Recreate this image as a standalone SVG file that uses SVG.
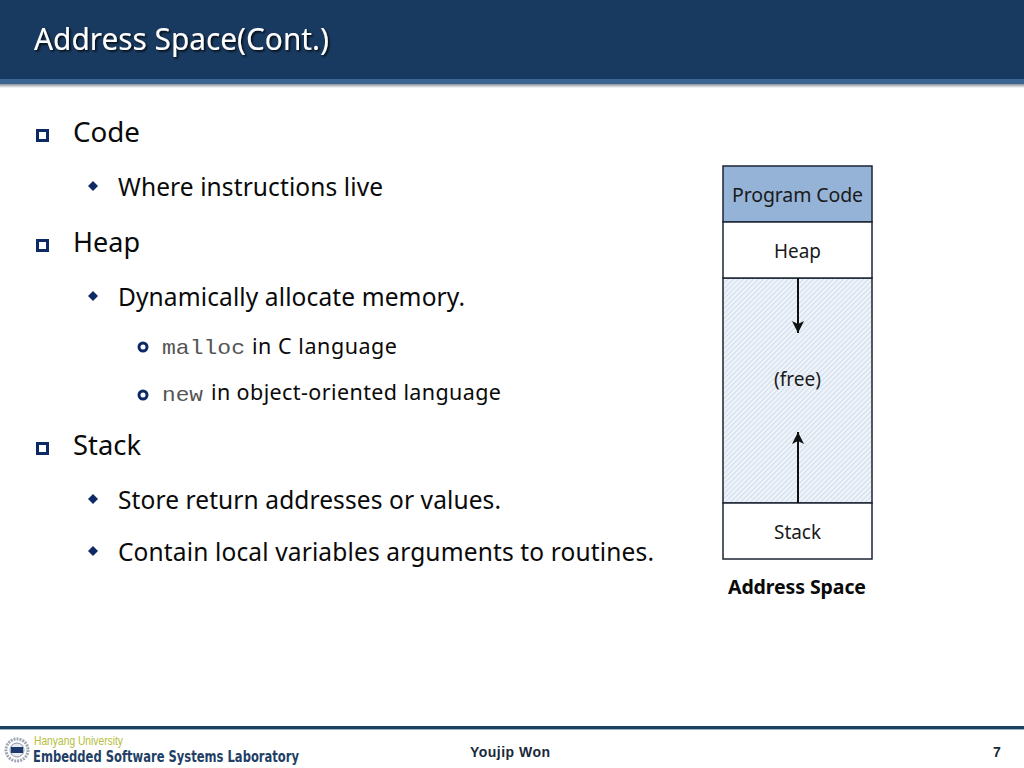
<svg xmlns="http://www.w3.org/2000/svg" width="1024" height="768" viewBox="0 0 1024 768">
<style>
text{font-family:"Noto Sans","Open Sans","DejaVu Sans",sans-serif;fill:#0a0a0a}
.l1{font-size:27px}.l2{font-size:24.500px}.l3{font-size:21.500px}.n{font-size:19.500px;fill:#1a1a1a}.m{font-family:"Liberation Mono",monospace;font-size:21px;fill:#555}
.b1{fill:#fff;stroke:#0e2a66;stroke-width:3}.b2{fill:#0e2a66}.b3{fill:#fff;stroke:#0e2a66;stroke-width:3}
.box{stroke:#1c2433;stroke-width:1.500}
.arr{stroke:#111;stroke-width:2;fill:none;marker-end:url(#ah)}
</style>
<defs>
<marker id="ah" markerUnits="userSpaceOnUse" markerWidth="14" markerHeight="14" refX="13" refY="7" orient="auto"><path d="M1 1L13 7L1 13L4 7Z" fill="#111"/></marker>
<pattern id="dots" width="5" height="5" patternUnits="userSpaceOnUse"><rect width="5" height="5" fill="#eef3f9"/><path d="M-1 3.500L3.500 -1M1.500 6L6 1.500" stroke="#c6d6e9" stroke-width="1"/></pattern>
<linearGradient id="sh" x1="0" x2="0" y1="0" y2="1"><stop offset="0" stop-color="#8b8f96"/><stop offset="1" stop-color="#fff"/></linearGradient>
<filter id="ts" x="-5%" y="-20%" width="110%" height="140%"><feDropShadow dx="1.500" dy="1.500" stdDeviation="0.800" flood-color="#000" flood-opacity="0.900"/></filter>
</defs>
<rect width="1024" height="768" fill="#fff"/>
<g id="header">
<rect width="1024" height="80" fill="#193a60"/>
<rect y="79" width="1024" height="5" fill="#3c6591"/>
<rect y="84" width="1024" height="4" fill="url(#sh)"/>
<text x="34" y="50" font-size="30" style="fill:#fff" filter="url(#ts)" textLength="295" lengthAdjust="spacingAndGlyphs">Address Space(Cont.)</text>
</g>
<g id="outline">
<rect class="b1" x="37.500" y="130.500" width="10" height="10"/>
<text class="l1" x="73" y="142" textLength="67" lengthAdjust="spacingAndGlyphs">Code</text>
<path class="b2" d="M93 181L98 186L93 191L88 186Z"/>
<text class="l2" x="118" y="196" textLength="265" lengthAdjust="spacing">Where instructions live</text>
<rect class="b1" x="37.500" y="240.500" width="10" height="10"/>
<text class="l1" x="73" y="252" textLength="67" lengthAdjust="spacingAndGlyphs">Heap</text>
<path class="b2" d="M93 291L98 296L93 301L88 296Z"/>
<text class="l2" x="118" y="306" textLength="347" lengthAdjust="spacing">Dynamically allocate memory.</text>
<circle class="b3" cx="143" cy="347" r="4"/>
<text class="m" x="162" y="354" textLength="83" lengthAdjust="spacingAndGlyphs">malloc</text>
<text class="l3" x="252" y="354" textLength="145" lengthAdjust="spacing">in C language</text>
<circle class="b3" cx="143" cy="395" r="4"/>
<text class="m" x="162" y="401" textLength="41" lengthAdjust="spacingAndGlyphs">new</text>
<text class="l3" x="211" y="400" textLength="290" lengthAdjust="spacing">in object-oriented language</text>
<rect class="b1" x="37.500" y="443.500" width="10" height="10"/>
<text class="l1" x="73" y="455" textLength="68" lengthAdjust="spacingAndGlyphs">Stack</text>
<path class="b2" d="M93 494L98 499L93 504L88 499Z"/>
<text class="l2" x="118" y="509" textLength="383" lengthAdjust="spacing">Store return addresses or values.</text>
<path class="b2" d="M93 546L98 551L93 556L88 551Z"/>
<text class="l2" x="118" y="561" textLength="536" lengthAdjust="spacing">Contain local variables arguments to routines.</text>
</g>
<g id="node-free"><rect class="box" x="723" y="278" width="149" height="225" fill="url(#dots)"/>
<text class="n" x="797.500" y="386" text-anchor="middle" textLength="47" lengthAdjust="spacingAndGlyphs">(free)</text></g>
<g id="node-code"><rect class="box" x="723" y="166" width="149" height="56" fill="#95b3d7"/>
<text class="n" x="797.500" y="202" text-anchor="middle" textLength="131" lengthAdjust="spacing">Program Code</text></g>
<g id="node-heap"><rect class="box" x="723" y="222" width="149" height="56" fill="#fff"/>
<text class="n" x="797.500" y="258" text-anchor="middle" textLength="47" lengthAdjust="spacingAndGlyphs">Heap</text></g>
<g id="node-stack"><rect class="box" x="723" y="503" width="149" height="56" fill="#fff"/>
<text class="n" x="797.500" y="539" text-anchor="middle" textLength="47" lengthAdjust="spacingAndGlyphs">Stack</text></g>
<g id="connectors">
<path class="arr" d="M798 278V333"/>
<path class="arr" d="M798 503V432"/>
</g>
<text x="797" y="594" text-anchor="middle" font-size="19.500" font-weight="700" textLength="138" lengthAdjust="spacing">Address Space</text>
<g id="footer">
<rect y="726" width="1024" height="3" fill="#1d4060"/>
<rect y="729" width="1024" height="1" fill="#9fb2c4"/>
<g id="logo" fill="none">
<circle cx="17" cy="750" r="11" stroke="#9fa8b5" stroke-width="3" stroke-dasharray="2 1"/>
<circle cx="17" cy="750" r="7" fill="#e8ecf2" stroke="#8a94a6"/>
<rect x="11" y="747" width="12" height="6" fill="#1d3a6e"/>
</g>
<text x="34" y="745" font-size="12" style="font-family:'Liberation Sans',sans-serif;fill:#b6bd3a" textLength="89" lengthAdjust="spacingAndGlyphs">Hanyang University</text>
<text x="33" y="762" font-size="15" font-weight="700" style="font-family:'DejaVu Sans',sans-serif;fill:#1f3f66" textLength="266" lengthAdjust="spacingAndGlyphs">Embedded Software Systems Laboratory</text>
<text x="510" y="757" text-anchor="middle" font-size="14" font-weight="700" style="font-family:'Liberation Sans',sans-serif;fill:#1a2a3a" textLength="80" lengthAdjust="spacing">Youjip Won</text>
<text x="997" y="757" text-anchor="middle" font-size="14" font-weight="700" style="font-family:'Liberation Sans',sans-serif;fill:#1a2a3a">7</text>
</g>
</svg>
